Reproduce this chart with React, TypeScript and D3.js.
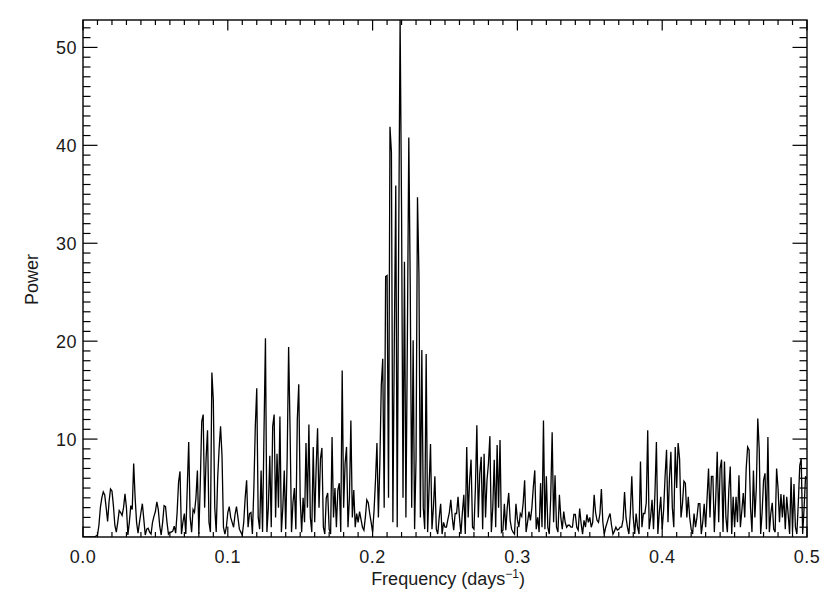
import { useEffect, useRef } from 'react'
import * as d3 from 'd3'

// periodogram sampled every 0.001 days^-1 starting at 0
const freqStart = 0
const freqStep = 0.001
const power = [
  0, 0, 0, 0, 0, 0, 0, 0, 0, 0.1,
  0.2, 1.2, 3.0, 4.0, 4.6, 4.3, 3.0, 1.6, 3.6, 4.9,
  4.7, 3.2, 1.2, 0.5, 1.5, 2.7, 2.5, 2.2, 3.0, 4.4,
  3.0, 0.2, 1.5, 3.2, 2.8, 7.5, 4.0, 1.5, 0.4, 1.5,
  2.5, 3.4, 1.8, 0.2, 0.8, 0.9, 0.5, 0.3, 1.5, 2.1,
  2.6, 3.6, 2.8, 1.1, 0.2, 1.5, 3.2, 3.1, 1.5, 0.3,
  0.5, 0.5, 0.6, 1.1, 0.4, 2.5, 5.6, 6.7, 0.3, 1.5,
  2.4, 0.3, 5.0, 9.7, 2.0, 0.5, 2.8, 2.5, 4.0, 6.8,
  0.3, 5.5, 11.8, 12.5, 3.0, 8.0, 10.9, 1.5, 0.5, 16.8,
  14.0, 3.0, 0.5, 6.0, 9.0, 11.3, 8.3, 1.0, 0.3, 1.0,
  2.5, 3.1, 2.0, 1.5, 1.0, 2.3, 3.1, 2.0, 0.8, 0.5,
  0.2, 1.5, 4.0, 5.8, 1.0, 2.4, 2.5, 0.3, 5.0, 11.3,
  15.2, 2.0, 0.8, 6.8, 0.5, 10.7, 20.3, 0.5, 3.0, 8.3,
  1.0, 11.3, 12.5, 2.0, 8.5, 3.0, 12.3, 0.5, 3.0, 6.8,
  0.8, 8.0, 19.4, 11.0, 0.5, 3.5, 5.0, 0.8, 12.0, 15.6,
  4.0, 0.5, 4.0, 1.5, 9.6, 3.0, 11.5, 2.0, 0.5, 9.2,
  1.5, 7.0, 11.1, 3.0, 8.0, 9.1, 1.0, 0.3, 4.0, 4.5,
  0.8, 0.3, 10.2, 2.0, 5.0, 1.0, 4.8, 5.5, 0.5, 17.0,
  3.0, 7.5, 9.2, 1.0, 4.0, 11.9, 2.0, 4.8, 1.0, 2.4,
  1.5, 2.6, 1.8, 1.0, 0.7, 2.0, 3.8, 3.5, 2.4, 1.5,
  0.5, 2.7, 5.8, 9.6, 2.0, 7.5, 15.5, 18.2, 3.0, 26.6,
  26.7, 4.0, 41.9, 39.3, 1.5, 20.0, 35.9, 1.0, 30.0, 52.8,
  33.4, 4.0, 28.1, 2.0, 20.0, 40.8, 25.5, 3.0, 20.1, 0.8,
  8.0, 34.7, 26.9, 2.0, 19.1, 3.0, 0.8, 18.7, 0.5, 5.0,
  9.5, 0.8, 3.0, 6.2, 0.8, 0.3, 2.0, 3.4, 0.3, 1.5,
  1.0, 1.0, 1.8, 2.5, 3.8, 2.0, 0.7, 2.4, 2.4, 4.1,
  2.0, 0.3, 2.5, 4.3, 0.3, 9.2, 2.0, 5.8, 7.9, 1.0,
  0.8, 5.0, 11.4, 2.0, 6.5, 8.2, 0.8, 8.5, 2.0, 5.8,
  7.5, 10.3, 0.5, 3.0, 7.9, 1.0, 9.4, 3.0, 9.9, 0.5,
  0.7, 3.4, 0.7, 3.0, 4.5, 1.7, 0.8, 0.5, 0.3, 3.4,
  1.8, 1.0, 2.4, 2.1, 3.5, 5.8, 0.5, 1.5, 2.6, 1.7,
  3.0, 5.1, 6.8, 0.8, 2.0, 0.5, 5.5, 1.0, 11.9, 0.8,
  6.2, 1.0, 0.3, 4.0, 10.7, 1.5, 6.3, 1.0, 0.5, 4.3,
  2.0, 0.8, 2.6, 1.5, 1.0, 1.2, 1.2, 1.0, 1.0, 2.3,
  2.3, 1.0, 0.7, 2.9, 1.4, 0.3, 1.7, 1.0, 2.3, 1.5,
  2.0, 1.0, 1.5, 4.3, 2.5, 1.7, 1.5, 2.4, 4.9, 1.5,
  0.3, 1.0, 1.5, 2.0, 2.4, 1.2, 0.3, 0.6, 1.0, 0.7,
  0.8, 1.0, 1.0, 1.8, 4.6, 2.0, 1.0, 0.3, 2.5, 6.2,
  2.0, 0.3, 2.4, 1.0, 0.3, 7.7, 1.0, 2.4, 2.4, 3.5,
  10.9, 0.8, 2.0, 3.8, 0.8, 4.5, 9.7, 0.3, 2.5, 4.1,
  0.8, 2.8, 6.2, 8.9, 1.5, 6.0, 8.7, 3.0, 1.0, 9.2,
  5.0, 9.6, 8.0, 2.0, 3.4, 5.7, 5.5, 2.0, 4.1, 2.0,
  0.8, 0.3, 2.4, 1.0, 2.0, 3.4, 3.4, 0.3, 1.5, 3.4,
  1.0, 4.0, 7.0, 2.0, 6.2, 6.2, 0.5, 4.0, 8.7, 1.5,
  7.0, 7.9, 0.5, 7.7, 2.0, 0.5, 4.8, 7.2, 0.3, 4.1,
  1.0, 4.1, 1.5, 6.3, 1.0, 2.7, 4.5, 2.0, 7.0, 9.2,
  8.9, 3.0, 0.5, 6.8, 2.0, 5.0, 12.1, 9.0, 0.3, 2.5,
  5.8, 6.5, 0.8, 10.2, 0.5, 2.4, 3.5, 0.8, 0.5, 7.0,
  5.0, 1.5, 4.4, 2.0, 4.3, 0.8, 4.1, 2.3, 0.3, 6.1,
  0.5, 5.4, 1.0, 0.3, 3.5, 7.3, 8.0, 0.3, 3.0, 6.2,
  5.9
]

const xDomain = [0, 0.5]
const yDomain = [0, 52.8]
const xMajor = [0, 0.1, 0.2, 0.3, 0.4, 0.5]
const xLabels = ['0.0', '0.1', '0.2', '0.3', '0.4', '0.5']
const yMajor = [10, 20, 30, 40, 50]
const yLabels = ['10', '20', '30', '40', '50']

export default function App() {
  const svgRef = useRef<SVGSVGElement>(null)

  useEffect(() => {
    if (!svgRef.current) return
    const svg = d3.select(svgRef.current)
    svg.selectAll('*').remove()

    const width = 830
    const height = 594
    const margin = { top: 20, right: 23, bottom: 57, left: 83 }
    const font = '"Liberation Sans", Arial, sans-serif'
    const ink = '#1a1a1a'

    const x = d3.scaleLinear().domain(xDomain).range([margin.left, width - margin.right])
    const y = d3.scaleLinear().domain(yDomain).range([height - margin.bottom, margin.top])

    const x0 = x.range()[0], x1 = x.range()[1]
    const y0 = y.range()[0], y1 = y.range()[1]

    svg.append('rect').attr('width', width).attr('height', height).attr('fill', '#fff')

    svg.append('clipPath').attr('id', 'plot-clip')
      .append('rect')
      .attr('x', x0).attr('y', y1)
      .attr('width', x1 - x0).attr('height', y0 - y1)

    // periodogram
    const line = d3.line<number>()
      .x((d, i) => x(freqStart + i * freqStep))
      .y(d => y(d))

    svg.append('path')
      .datum(power)
      .attr('clip-path', 'url(#plot-clip)')
      .attr('d', line)
      .attr('fill', 'none')
      .attr('stroke', '#000')
      .attr('stroke-width', 1.3)
      .attr('stroke-linejoin', 'miter')

    // ticks on all four sides, IDL style (pointing inward)
    const xMinor = d3.range(0, 51).map(k => k / 100).filter(v => !xMajor.some(m => Math.abs(m - v) < 1e-9))
    const yMinor = d3.range(1, 53).filter(v => v % 10 !== 0)
    const ticks = svg.append('g').attr('stroke', '#000').attr('stroke-width', 1.2)

    const xTick = (vals: number[], len: number) => {
      vals.forEach(v => {
        ticks.append('line').attr('x1', x(v)).attr('x2', x(v)).attr('y1', y0).attr('y2', y0 - len)
        ticks.append('line').attr('x1', x(v)).attr('x2', x(v)).attr('y1', y1).attr('y2', y1 + len)
      })
    }
    const yTick = (vals: number[], len: number) => {
      vals.forEach(v => {
        ticks.append('line').attr('x1', x0).attr('x2', x0 + len).attr('y1', y(v)).attr('y2', y(v))
        ticks.append('line').attr('x1', x1).attr('x2', x1 - len).attr('y1', y(v)).attr('y2', y(v))
      })
    }
    xTick(xMajor, 10.5)
    xTick(xMinor, 5)
    yTick(yMajor, 14.5)
    yTick(yMinor, 7.5)

    // frame
    svg.append('rect')
      .attr('x', x0).attr('y', y1)
      .attr('width', x1 - x0).attr('height', y0 - y1)
      .attr('fill', 'none')
      .attr('stroke', '#000')
      .attr('stroke-width', 1.4)

    // tick labels
    svg.append('g').selectAll('text')
      .data(xMajor)
      .join('text')
      .attr('x', d => x(d))
      .attr('y', y0 + 26)
      .attr('text-anchor', 'middle')
      .style('font-family', font)
      .style('font-size', '18px')
      .style('letter-spacing', '0.5px')
      .style('fill', ink)
      .text((d, i) => xLabels[i])

    svg.append('g').selectAll('text')
      .data(yMajor)
      .join('text')
      .attr('x', x0 - 6)
      .attr('y', d => y(d) + 6.5)
      .attr('text-anchor', 'end')
      .style('font-family', font)
      .style('font-size', '18px')
      .style('letter-spacing', '0.5px')
      .style('fill', ink)
      .text((d, i) => yLabels[i])

    // axis titles
    const xt = svg.append('text')
      .attr('x', (x0 + x1) / 2 + 3)
      .attr('y', y0 + 48)
      .attr('text-anchor', 'middle')
      .style('font-family', font)
      .style('font-size', '18px')
      .style('fill', ink)
    xt.append('tspan').text('Frequency (days')
    xt.append('tspan').attr('dy', -7).style('font-size', '12px').text('\u22121')
    xt.append('tspan').attr('dy', 7).text(')')

    svg.append('text')
      .attr('transform', `translate(38, ${(y0 + y1) / 2 + 1}) rotate(-90)`)
      .attr('text-anchor', 'middle')
      .style('font-family', font)
      .style('font-size', '18px')
      .style('fill', ink)
      .text('Power')
  }, [])

  return (
    <svg
      ref={svgRef}
      width={830}
      height={594}
      style={{ position: 'absolute', left: 0, top: 0, display: 'block' }}
    />
  )
}
